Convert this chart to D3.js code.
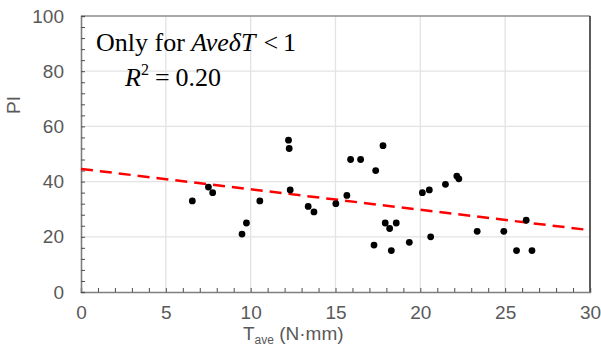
<!doctype html>
<html>
<head>
<script src="https://cdn.jsdelivr.net/npm/d3@7"></script>
<style>
  html, body { margin: 0; padding: 0; background: #fff; }
  #viz { position: absolute; top: 0; left: 0; width: 601px; height: 351px; }
  .tick text { font-family: "Liberation Sans", Arial, sans-serif; }
</style>
</head>
<body>
<div id="viz"></div>
<script>
// torque (N·mm) vs PI, only AveδT < 1
var tAve = [6.56, 7.51, 7.76, 9.75, 9.49, 10.54, 12.23, 12.27, 12.33, 13.39, 13.73,
            15.02, 15.67, 15.89, 16.48, 17.80, 17.37, 17.27, 17.93, 18.19, 18.58,
            18.29, 19.35, 20.12, 20.53, 20.61, 21.48, 22.15, 22.27, 23.35, 24.92,
            26.24, 25.67, 26.58];
var piVals = [33, 38, 36, 25, 21, 33, 55, 52, 37, 31, 29,
              32, 35, 48, 48, 53, 44, 17, 25, 23, 25,
              15, 18, 36, 37, 20, 39, 42, 41, 22, 22,
              26, 15, 15];
var fitX = [0, 30];
var fitY = [44.6, 22.4];
var xTicks = [0, 5, 10, 15, 20, 25, 30];
var yTicks = [0, 20, 40, 60, 80, 100];

var w = 601, h = 351;
var mLeft = 81, mRight = 590, mTop = 16, mBottom = 292;

var x = d3.scaleLinear().domain([0, 30]).range([mLeft, mRight]);
var y = d3.scaleLinear().domain([0, 100]).range([mBottom, mTop]);

var svg = d3.select("#viz").append("svg")
    .attr("width", w)
    .attr("height", h);

// grid
svg.append("g").selectAll("line")
    .data(xTicks.slice(1, -1))
    .enter().append("line")
    .attr("x1", function (d) { return x(d); })
    .attr("x2", function (d) { return x(d); })
    .attr("y1", mTop).attr("y2", mBottom)
    .attr("stroke", "#e3e3e3").attr("stroke-width", 1.3);
svg.append("g").selectAll("line")
    .data(yTicks.slice(1, -1))
    .enter().append("line")
    .attr("x1", mLeft).attr("x2", mRight)
    .attr("y1", function (d) { return y(d); })
    .attr("y2", function (d) { return y(d); })
    .attr("stroke", "#e3e3e3").attr("stroke-width", 1.3);

// frame: top gray, right dark
svg.append("line").attr("x1", mLeft).attr("x2", mRight).attr("y1", mTop).attr("y2", mTop)
    .attr("stroke", "#8c8c8c").attr("stroke-width", 1.3);
svg.append("line").attr("x1", mRight).attr("x2", mRight).attr("y1", mTop).attr("y2", mBottom)
    .attr("stroke", "#262626").attr("stroke-width", 1.5);

// axes with inward ticks
var xAxis = svg.append("g")
    .attr("transform", "translate(0," + mBottom + ")")
    .call(d3.axisBottom(x).tickValues(d3.range(0, 31, 1)).tickSize(-4).tickFormat(""));
var xLab = svg.append("g")
    .attr("transform", "translate(0," + mBottom + ")")
    .call(d3.axisBottom(x).tickValues(xTicks).tickSize(0).tickPadding(14));
var yAxis = svg.append("g")
    .attr("transform", "translate(" + mLeft + ",0)")
    .call(d3.axisLeft(y).tickValues(d3.range(0, 101, 4)).tickSize(-4).tickFormat(""));
var yLab = svg.append("g")
    .attr("transform", "translate(" + mLeft + ",0)")
    .call(d3.axisLeft(y).tickValues(yTicks).tickSize(0).tickPadding(17));

[xAxis, yAxis].forEach(function (g) {
    g.select(".domain").attr("stroke", "#7f7f7f").attr("stroke-width", 1.6);
    g.selectAll(".tick line").attr("stroke", "#4d4d4d").attr("stroke-width", 1);
});
[xLab, yLab].forEach(function (g) {
    g.select(".domain").remove();
    g.selectAll(".tick text").attr("font-size", 19).attr("fill", "#595959");
});

// fit line
svg.append("path")
    .datum(d3.zip(fitX, fitY))
    .attr("d", d3.line().x(function (d) { return x(d[0]); }).y(function (d) { return y(d[1]); }))
    .attr("fill", "none")
    .attr("stroke", "#ff0000")
    .attr("stroke-width", 2.5)
    .attr("stroke-dasharray", "12,7");

// points
svg.append("g").selectAll("circle")
    .data(d3.zip(tAve, piVals))
    .enter().append("circle")
    .attr("cx", function (d) { return x(d[0]); })
    .attr("cy", function (d) { return y(d[1]); })
    .attr("r", 3.4)
    .attr("fill", "#000");

// axis titles
svg.append("text")
    .attr("transform", "translate(20,105) rotate(-90)")
    .attr("text-anchor", "middle")
    .attr("font-family", "Liberation Sans, Arial, sans-serif")
    .attr("font-size", 19).attr("fill", "#595959")
    .text("PI");

var xt = svg.append("text")
    .attr("x", 297).attr("y", 340)
    .attr("font-family", "Liberation Sans, Arial, sans-serif")
    .attr("font-size", 19).attr("fill", "#595959");
xt.append("tspan").attr("x", 243).text("T");
xt.append("tspan").attr("font-size", 12).attr("dy", 4).text("ave");
xt.append("tspan").attr("dy", -4).text(" (N\u00b7mm)");

// annotation
var serif = "Liberation Serif, Times New Roman, serif";
var a1 = svg.append("text")
    .attr("x", 96).attr("y", 51)
    .attr("font-family", serif).attr("font-size", 26).attr("fill", "#000");
a1.append("tspan").text("Only for ");
a1.append("tspan").attr("font-style", "italic").text("Ave\u03b4T");
a1.append("tspan").attr("dx", 8).text("<");
a1.append("tspan").attr("dx", 5).text("1");

var a2 = svg.append("text")
    .attr("x", 125).attr("y", 86)
    .attr("font-family", serif).attr("font-size", 26).attr("fill", "#000");
a2.append("tspan").attr("font-style", "italic").text("R");
a2.append("tspan").attr("font-size", 16).attr("dy", -11).text("2");
a2.append("tspan").attr("dy", 11).attr("dx", 6).text("=");
a2.append("tspan").attr("dx", 6).text("0.20");
</script>
</body>
</html>
